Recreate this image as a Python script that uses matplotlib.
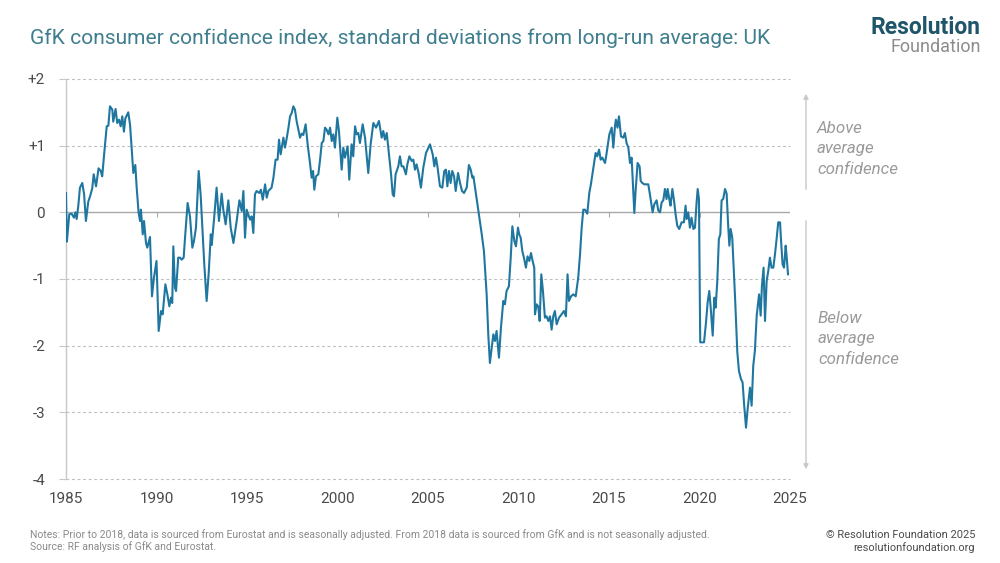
import matplotlib
matplotlib.use("Agg")
import matplotlib.pyplot as plt
import numpy as np

# ---- data (decimal year, standard deviations from long-run average) ----
years = [
 1985.0,1985.05,1985.18,1985.31,1985.44,1985.52,1985.59,1985.68,1985.77,1985.9,1986.0,1986.1,1986.23,1986.33,1986.45,1986.53,1986.66,1986.8,1986.92,1987.0,
 1987.12,1987.25,1987.34,1987.43,1987.56,1987.61,1987.74,1987.83,1987.93,1988.02,1988.11,1988.2,1988.28,1988.44,1988.54,1988.63,1988.72,1988.83,1988.9,1989.01,
 1989.09,1989.14,1989.24,1989.31,1989.42,1989.49,1989.64,1989.75,1989.86,1990.0,1990.12,1990.25,1990.34,1990.49,1990.6,1990.71,1990.8,1990.87,1990.93,1991.02,
 1991.08,1991.2,1991.3,1991.39,1991.5,1991.59,1991.72,1991.85,1991.98,1992.07,1992.18,1992.33,1992.44,1992.55,1992.64,1992.77,1992.88,1993.0,1993.05,1993.18,
 1993.32,1993.45,1993.6,1993.69,1993.82,1993.97,1994.1,1994.25,1994.43,1994.58,1994.71,1994.8,1994.89,1994.98,1995.07,1995.17,1995.26,1995.35,1995.44,1995.53,
 1995.68,1995.77,1995.87,1996.0,1996.09,1996.18,1996.36,1996.46,1996.58,1996.69,1996.77,1996.86,1997.01,1997.1,1997.2,1997.29,1997.38,1997.47,1997.56,1997.65,
 1997.74,1997.84,1997.93,1998.02,1998.11,1998.24,1998.35,1998.48,1998.57,1998.65,1998.72,1998.81,1998.94,1999.03,1999.13,1999.22,1999.31,1999.4,1999.5,1999.59,
 1999.68,1999.77,1999.86,1999.99,2000.08,2000.23,2000.32,2000.41,2000.56,2000.65,2000.78,2000.87,2000.97,2001.06,2001.15,2001.24,2001.39,2001.52,2001.7,2001.83,
 2001.98,2002.13,2002.29,2002.44,2002.53,2002.62,2002.72,2002.86,2002.96,2003.05,2003.12,2003.21,2003.36,2003.45,2003.54,2003.64,2003.78,2003.86,2003.97,2004.1,
 2004.19,2004.28,2004.37,2004.48,2004.61,2004.74,2004.89,2005.11,2005.26,2005.35,2005.44,2005.53,2005.66,2005.79,2005.9,2005.99,2006.07,2006.16,2006.25,2006.34,
 2006.44,2006.53,2006.66,2006.77,2006.88,2006.99,2007.14,2007.26,2007.36,2007.45,2007.51,2007.6,2007.78,2007.97,2008.09,2008.24,2008.33,2008.42,2008.52,2008.61,
 2008.7,2008.79,2008.92,2009.03,2009.16,2009.25,2009.34,2009.47,2009.57,2009.66,2009.77,2009.86,2009.97,2010.04,2010.12,2010.21,2010.3,2010.41,2010.5,2010.6,
 2010.69,2010.78,2010.87,2010.91,2011.0,2011.09,2011.17,2011.26,2011.35,2011.46,2011.55,2011.65,2011.74,2011.83,2011.92,2012.01,2012.11,2012.24,2012.38,2012.51,
 2012.62,2012.71,2012.79,2012.9,2013.03,2013.16,2013.3,2013.4,2013.49,2013.58,2013.67,2013.8,2013.91,2014.0,2014.13,2014.26,2014.35,2014.45,2014.54,2014.63,
 2014.78,2014.87,2015.02,2015.15,2015.24,2015.33,2015.38,2015.47,2015.55,2015.66,2015.79,2015.88,2015.97,2016.07,2016.16,2016.25,2016.32,2016.4,2016.47,2016.58,
 2016.69,2016.75,2016.84,2016.95,2017.08,2017.17,2017.26,2017.41,2017.5,2017.63,2017.72,2017.82,2017.91,2018.0,2018.09,2018.18,2018.24,2018.33,2018.4,2018.5,
 2018.59,2018.68,2018.77,2018.88,2019.01,2019.14,2019.23,2019.29,2019.38,2019.47,2019.56,2019.66,2019.75,2019.84,2019.9,2019.97,2020.04,2020.25,2020.36,2020.45,
 2020.54,2020.61,2020.73,2020.82,2020.89,2020.98,2021.07,2021.15,2021.22,2021.31,2021.41,2021.5,2021.59,2021.65,2021.72,2021.81,2021.96,2022.09,2022.18,2022.29,
 2022.38,2022.47,2022.57,2022.66,2022.79,2022.88,2022.97,2023.06,2023.16,2023.29,2023.38,2023.45,2023.54,2023.62,2023.71,2023.8,2023.89,2023.98,2024.08,2024.17,
 2024.26,2024.35,2024.45,2024.5,2024.59,2024.67,2024.76,2024.81,2024.89,
]
confidence_sd = [
 0.29,-0.44,-0.03,-0.02,-0.08,0.0,-0.1,0.1,0.37,0.44,0.27,-0.13,0.16,0.24,0.36,0.57,0.39,0.66,0.62,0.54,
 0.91,1.29,1.3,1.59,1.54,1.36,1.55,1.34,1.39,1.29,1.44,1.21,1.41,1.5,1.31,0.96,0.59,0.71,0.39,0.0,
 -0.13,0.04,-0.33,-0.13,-0.46,-0.53,-0.37,-1.26,-0.98,-0.73,-1.78,-1.48,-1.53,-1.08,-1.23,-1.41,-1.28,-1.36,-0.51,-1.13,
 -1.18,-0.68,-0.68,-0.71,-0.68,-0.33,0.14,-0.06,-0.53,-0.43,-0.23,0.62,0.26,-0.33,-0.78,-1.33,-0.93,-0.33,-0.49,-0.1,
 0.37,-0.13,0.28,0.04,-0.18,0.18,-0.23,-0.46,-0.13,0.18,0.02,0.32,-0.38,0.04,-0.03,-0.11,-0.06,-0.31,0.27,0.32,
 0.29,0.34,0.19,0.42,0.22,0.32,0.37,0.52,0.79,0.79,1.09,0.87,1.12,0.97,1.12,1.27,1.44,1.49,1.59,1.54,
 1.37,1.24,1.12,1.18,1.16,1.32,1.02,0.74,0.52,0.62,0.34,0.54,0.57,0.77,1.04,1.07,1.27,1.24,1.17,1.27,
 1.07,1.17,0.97,1.42,1.22,0.64,0.97,0.82,0.99,0.49,1.02,0.84,1.29,1.17,1.19,1.04,1.32,1.12,0.59,1.02,
 1.34,1.27,1.37,1.12,1.22,1.09,1.19,0.82,0.57,0.27,0.24,0.57,0.69,0.84,0.69,0.69,0.57,0.72,0.84,0.77,
 0.79,0.64,0.72,0.59,0.37,0.67,0.89,1.02,0.87,0.69,0.82,0.67,0.39,0.37,0.62,0.64,0.39,0.62,0.44,0.62,
 0.54,0.32,0.59,0.44,0.32,0.29,0.37,0.71,0.64,0.52,0.54,0.37,0.02,-0.33,-0.58,-1.23,-1.83,-2.26,-2.03,-1.83,
 -1.93,-1.78,-2.18,-1.73,-1.33,-1.38,-1.18,-1.11,-0.68,-0.21,-0.43,-0.51,-0.23,-0.33,-0.38,-0.58,-0.68,-0.83,-0.66,-0.73,
 -0.61,-0.73,-0.83,-1.53,-1.38,-1.41,-1.63,-0.93,-1.18,-1.58,-1.56,-1.63,-1.56,-1.76,-1.56,-1.48,-1.68,-1.58,-1.53,-1.48,
 -1.56,-0.93,-1.33,-1.26,-1.23,-1.26,-0.98,-0.63,-0.23,0.04,0.04,-0.02,0.29,0.42,0.66,0.89,0.84,0.94,0.79,0.82,
 0.74,0.89,1.17,1.27,0.97,1.29,1.39,1.27,1.44,1.14,1.12,1.19,1.04,0.97,0.74,0.82,0.42,-0.01,0.32,0.74,
 0.69,0.47,0.44,0.42,0.42,0.42,0.27,0.0,0.12,0.18,0.03,0.0,0.15,0.18,0.35,0.2,0.35,0.2,0.1,0.35,
 0.18,-0.03,-0.2,-0.25,-0.15,-0.15,0.1,-0.1,0.0,-0.23,-0.08,-0.25,-0.23,0.15,0.35,0.2,-1.95,-1.95,-1.65,-1.35,
 -1.18,-1.4,-1.85,-1.28,-1.43,-1.05,-0.4,-0.33,0.18,0.2,0.35,0.28,-0.23,-0.5,-0.25,-0.38,-1.25,-2.1,-2.38,-2.5,
 -2.55,-2.9,-3.23,-2.95,-2.63,-2.9,-2.3,-2.08,-1.55,-1.23,-1.55,-1.1,-0.83,-1.63,-1.03,-0.88,-0.68,-0.83,-0.83,-0.63,
 -0.4,-0.15,-0.15,-0.4,-0.78,-0.83,-0.5,-0.65,-0.93,
]
x_ticks = [1985, 1990, 1995, 2000, 2005, 2010, 2015, 2020, 2025]
y_ticks = [2, 1, 0, -1, -2, -3, -4]
y_tick_labels = ["+2", "+1", "0", "-1", "-2", "-3", "-4"]

title = "GfK consumer confidence index, standard deviations from long-run average: UK"
notes = ("Notes: Prior to 2018, data is sourced from Eurostat and is seasonally adjusted. "
         "From 2018 data is sourced from GfK and is not seasonally adjusted.")
source = "Source: RF analysis of GfK and Eurostat."

LINE = "#1F77A0"
GRID = "#BDBDBD"
TXT = "#4A4A4A"

plt.rcParams['font.family'] = ['Roboto', 'DejaVu Sans']

fig = plt.figure(figsize=(10, 5.63), dpi=100)
ax = fig.add_axes([0.066, 0.1492, 0.724, 0.7105])

ax.set_xlim(1985, 2025)
ax.set_ylim(-4, 2)

for v in y_ticks:
    if v == 0:
        ax.axhline(v, color="#A8A8A8", lw=1.0, zorder=1)
    else:
        ax.axhline(v, color=GRID, lw=0.8, ls=(0, (2.5, 2.5)), zorder=1, clip_on=False)

# small ticks on the zero line
ax.vlines(x_ticks[1:-1], -0.07, 0, color="#A8A8A8", lw=0.8, zorder=1)

ax.plot(years, confidence_sd, color=LINE, lw=1.5, zorder=3, solid_joinstyle='round')

for s in ["top", "right", "bottom"]:
    ax.spines[s].set_visible(False)
ax.spines["left"].set_color("#C8C8C8")
ax.spines["left"].set_linewidth(1.0)

ax.set_yticks(y_ticks)
ax.set_yticklabels(y_tick_labels)
ax.set_xticks(x_ticks)
ax.set_xticklabels([str(t) for t in x_ticks])
ax.tick_params(axis="y", length=5, color="#C8C8C8", pad=10, labelsize=11, labelcolor=TXT)
ax.tick_params(axis="x", length=0, pad=9, labelsize=11, labelcolor=TXT)

# right-hand annotation arrows
arr = dict(arrowstyle="-|>", color="#C8C8C8", lw=1.0, mutation_scale=7)
ax.annotate("", xy=(806/1000, 1-91/563), xytext=(806/1000, 1-192/563),
            xycoords="figure fraction", textcoords="figure fraction", arrowprops=arr)
ax.annotate("", xy=(806/1000, 1-472/563), xytext=(806/1000, 1-218/563),
            xycoords="figure fraction", textcoords="figure fraction", arrowprops=arr)
fig.text(0.817, 1-149/563, "Above\naverage\nconfidence", fontsize=12.2, style="italic",
         color="#9A9A9A", va="center", ha="left", linespacing=1.42)
fig.text(0.818, 1-339/563, "Below\naverage\nconfidence", fontsize=12.2, style="italic",
         color="#9A9A9A", va="center", ha="left", linespacing=1.42)

# title and logo
fig.text(0.030, 1-38/563, title, fontsize=15.1, color="#3F7E8E", va="center", ha="left")
fig.text(0.981, 1-28/563, "Resolution", fontsize=16.5, fontweight="bold", color="#1F5568",
         va="center", ha="right")
fig.text(0.981, 1-47/563, "Foundation", fontsize=13, color="#8C8C8C", va="center", ha="right")

# footer
fig.text(0.030, 1-535/563, notes, fontsize=7.45, color="#8A8A8A", va="center", ha="left")
fig.text(0.030, 1-547/563, source, fontsize=7.45, color="#8A8A8A", va="center", ha="left")
fig.text(0.975, 1-535/563, "\u00a9 Resolution Foundation 2025", fontsize=7.9, color="#4A4A4A",
         va="center", ha="right")
fig.text(0.975, 1-548/563, "resolutionfoundation.org", fontsize=7.9, color="#4A4A4A",
         va="center", ha="right")

fig.savefig("out.png", dpi=100, facecolor="white")
